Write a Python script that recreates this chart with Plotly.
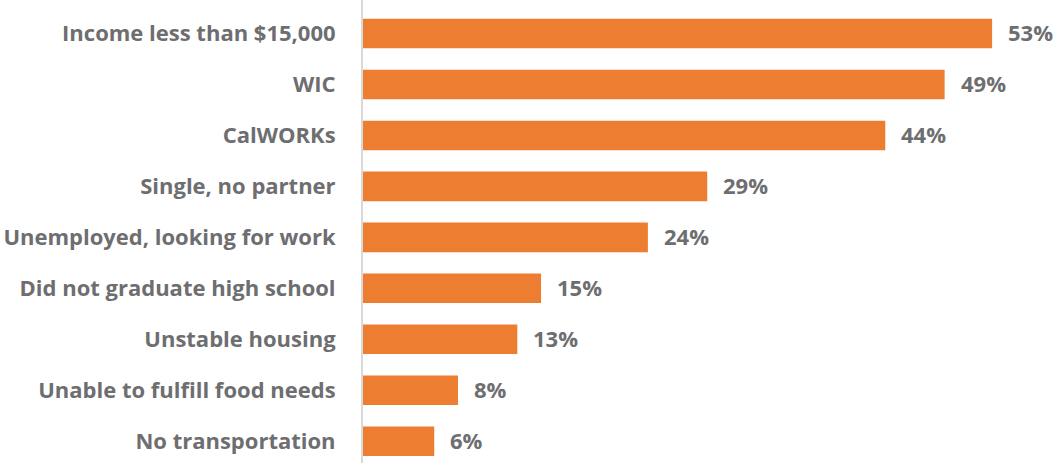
import plotly.graph_objects as go

categories = [
    "Income less than $15,000",
    "WIC",
    "CalWORKs",
    "Single, no partner",
    "Unemployed, looking for work",
    "Did not graduate high school",
    "Unstable housing",
    "Unable to fulfill food needs",
    "No transportation",
]
values = [53, 49, 44, 29, 24, 15, 13, 8, 6]
value_labels = ["53%", "49%", "44%", "29%", "24%", "15%", "13%", "8%", "6%"]

BAR = "#ED7D31"
TXT = "#6E6E70"
FONT = "'Open Sans', Lato, sans-serif"

fig = go.Figure()
fig.add_trace(go.Bar(
    x=values, y=categories, orientation="h",
    marker=dict(color=BAR, line=dict(width=0)),
    hoverinfo="skip",
))

for c, v, t in zip(categories, values, value_labels):
    fig.add_annotation(x=v, y=c, text=t, showarrow=False, xanchor="left",
                       xshift=14, yshift=1,
                       font=dict(family=FONT, size=22, color=TXT, weight="bold"))

fig.update_layout(
    width=1057, height=463,
    margin=dict(l=363, r=0, t=0, b=0),
    paper_bgcolor="white", plot_bgcolor="white",
    bargap=0.42,
    showlegend=False,
    font=dict(family=FONT, size=22, color=TXT, weight="bold"),
    xaxis=dict(range=[0, 694 / 11.87], showgrid=False, zeroline=False,
               showticklabels=False, showline=False),
    yaxis=dict(categoryorder="array", categoryarray=categories,
               range=[8.427, -0.657], showgrid=False, zeroline=False,
               showline=True, linecolor="#D9D9D9", linewidth=2,
               ticks="", ticklabelstandoff=21,
               tickfont=dict(family=FONT, size=22, color=TXT, weight="bold")),
)

fig.write_html("out.html")
